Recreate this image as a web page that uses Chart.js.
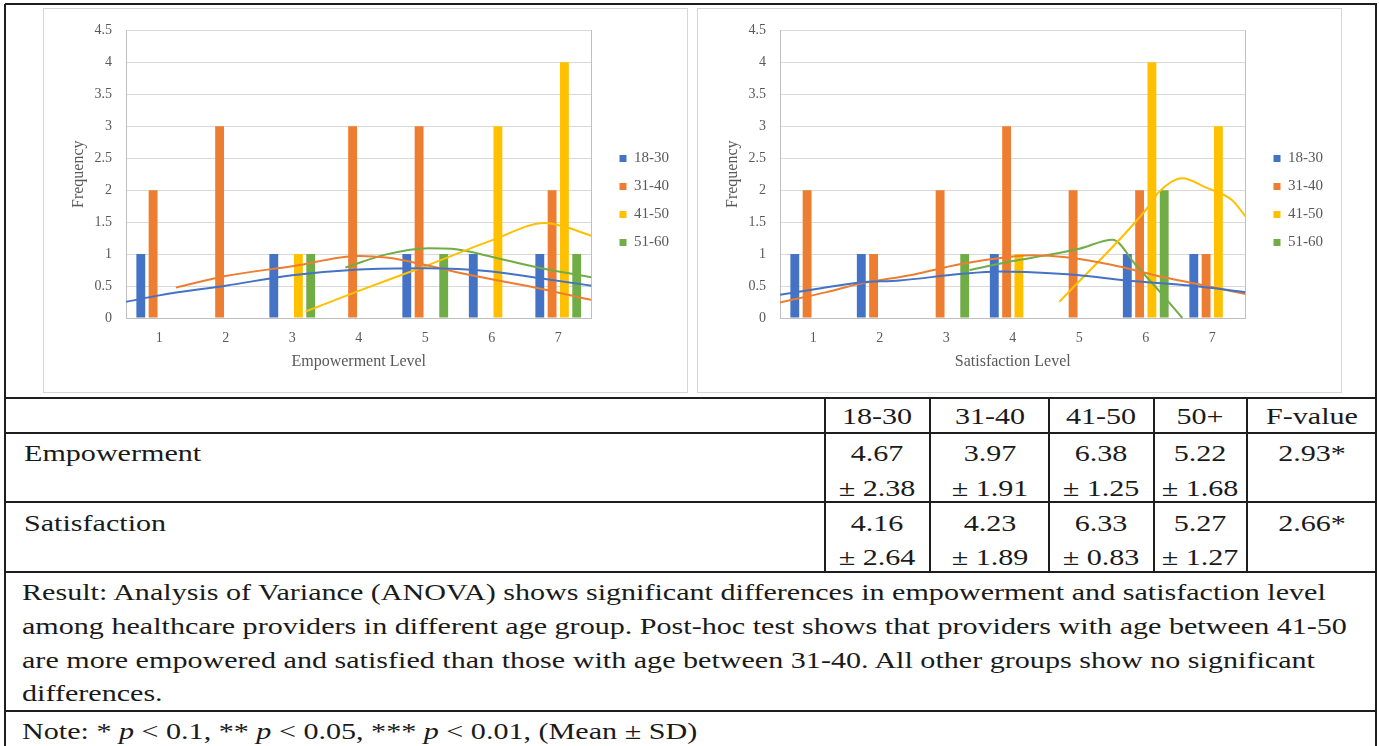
<!DOCTYPE html>
<html><head><meta charset="utf-8">
<script src="https://cdn.jsdelivr.net/npm/chart.js@4.4.0/dist/chart.umd.min.js"></script>
<style>
html,body{margin:0;padding:0;background:#fff;}
body{width:1379px;height:746px;position:relative;overflow:hidden;font-family:'Liberation Serif','Times New Roman',serif;color:#1a1a1a;}
.hl{position:absolute;left:5px;width:1372px;height:2px;background:#1e1e1e;}
.vl{position:absolute;width:2px;background:#1e1e1e;}
.panel{position:absolute;top:8px;width:645px;height:385px;border:1px solid #d6d6d6;box-sizing:border-box;}
.cw{position:absolute;top:8px;width:645px;height:385px;}
.t{position:absolute;white-space:nowrap;font-size:24px;line-height:1;}
</style></head><body>
<div class="vl" style="left:4px;top:4px;height:742px"></div>
<div class="vl" style="left:1375px;top:4px;height:742px"></div>
<div class="hl" style="top:3px"></div>
<div class="hl" style="top:397px"></div>
<div class="hl" style="top:432px"></div>
<div class="hl" style="top:501px"></div>
<div class="hl" style="top:571px"></div>
<div class="hl" style="top:710px"></div>
<div class="panel" style="left:43px"></div>
<div class="panel" style="left:697px"></div>
<div class="cw" style="left:43px"><canvas id="c1"></canvas></div>
<div class="cw" style="left:43px"><canvas id="c1l"></canvas></div>
<div class="cw" style="left:697px"><canvas id="c2"></canvas></div>
<div class="cw" style="left:697px"><canvas id="c2l"></canvas></div>
<div id="tbl"></div>
<script>
// ---- chart data ----
const levels = ['1','2','3','4','5','6','7'];
const groups = ['18-30','31-40','41-50','51-60'];
const yTickLabels = ['0','0.5','1','1.5','2','2.5','3','3.5','4','4.5'];

const emp1830 = [1,0,1,0,1,1,1];
const emp3140 = [2,3,0,3,3,0,2];
const emp4150 = [0,0,1,0,0,3,4];
const emp5160 = [0,0,1,0,1,0,1];

const sat1830 = [1,1,0,1,0,1,1];
const sat3140 = [2,1,2,3,2,2,1];
const sat4150 = [0,0,0,1,0,4,3];
const sat5160 = [0,0,1,0,0,2,0];

// trend curves: [level position, frequency]
const empTrend1830 = [[0.5,0.25],[1,0.35],[2,0.5],[3,0.66],[4,0.75],[5,0.77],[6,0.72],[6.75,0.61],[7.5,0.5]];
const empTrend3140 = [[1.25,0.47],[2,0.65],[3,0.8],[4,0.96],[4.45,0.93],[5,0.82],[5.6,0.68],[6.75,0.45],[7.5,0.28]];
const empTrend4150 = [[3.2,0.1],[4,0.42],[5,0.8],[6,1.2],[6.8,1.47],[7.1,1.41],[7.5,1.27]];
const empTrend5160 = [[3.8,0.78],[4.4,0.98],[5.05,1.08],[5.4,1.07],[6.1,0.92],[6.75,0.77],[7.5,0.63]];

const satTrend1830 = [[0.5,0.36],[1,0.44],[1.7,0.55],[2.3,0.58],[3.2,0.68],[3.8,0.72],[4.2,0.71],[5,0.66],[5.7,0.58],[6.7,0.5],[7.5,0.4]];
const satTrend3140 = [[0.5,0.24],[1.2,0.4],[1.7,0.53],[2.5,0.67],[3.2,0.83],[4,0.95],[4.3,0.97],[4.8,0.94],[5.5,0.82],[6.1,0.67],[6.9,0.5],[7.5,0.37]];
const satTrend4150 = [[4.7,0.25],[6,1.67],[6.2,1.95],[6.55,2.16],[6.9,2.02],[7.3,1.82],[7.5,1.57]];
const satTrend5160 = [[3.35,0.74],[4,0.88],[4.5,0.97],[5,1.07],[5.5,1.21],[5.85,0.82],[6.2,0.42],[6.55,0]];

// ---- table data ----
const colHeads = ['18-30','31-40','41-50','50+','F-value'];
const rowNames = ['Empowerment','Satisfaction'];
const empMeans = ['4.67','3.97','6.38','5.22'];
const empSDs = ['2.38','1.91','1.25','1.68'];
const satMeans = ['4.16','4.23','6.33','5.27'];
const satSDs = ['2.64','1.89','0.83','1.27'];
const fValues = ['2.93*','2.66*'];
const resultLines = [
 'Result: Analysis of Variance (ANOVA) shows significant differences in empowerment and satisfaction level',
 'among healthcare providers in different age group. Post-hoc test shows that providers with age between 41-50',
 'are more empowered and satisfied than those with age between 31-40. All other groups show no significant',
 'differences.'
];
const noteHtml = 'Note: * <i>p</i> &lt; 0.1, ** <i>p</i> &lt; 0.05, *** <i>p</i> &lt; 0.01, (Mean ± SD)';

// ---- styles ----
const colors = ['#4472C4','#ED7D31','#FFC000','#70AD47'];
const FONT = "'Liberation Serif','Times New Roman',serif";
const TXT = '#595959';
const CLEAR = 'rgba(0,0,0,0)';
Chart.defaults.font.family = FONT;

const legendLabels = {boxWidth:7, boxHeight:7, padding:13, color:TXT, font:{family:FONT,size:15}};
const layoutPad = {top:19,bottom:19,left:0,right:9};
const fitX = s=>{s.height=56;}, fitY = s=>{s.width=83;}, fitY2 = s=>{s.width=15;};

function makeBars(id, title, bars) {
  return new Chart(document.getElementById(id), {
    type:'bar',
    data:{labels:levels, datasets:bars.map((d,i)=>({
      label:groups[i], data:d, backgroundColor:colors[i],
      categoryPercentage:0.74, barPercentage:0.72
    }))},
    options:{
      responsive:true, maintainAspectRatio:false, animation:false,
      layout:{padding:layoutPad},
      plugins:{legend:{position:'right', labels:legendLabels}, tooltip:{enabled:false}},
      scales:{
        x:{type:'category', offset:true, grid:{display:false,drawTicks:false}, border:{display:true,color:'#bfbfbf'},
           ticks:{padding:12,color:TXT,font:{size:14}},
           title:{display:true,text:title,color:TXT,font:{size:16},padding:{top:0,bottom:3}},
           afterFit:fitX},
        y:{min:0,max:4.5, ticks:{stepSize:0.5,padding:14,color:TXT,font:{size:14},callback:(v,i)=>yTickLabels[i]},
           grid:{color:'#d9d9d9',drawTicks:false}, border:{display:true,color:'#bfbfbf'},
           title:{display:true,text:'Frequency',color:TXT,font:{size:16},padding:{top:26,bottom:0}},
           afterFit:fitY},
        y2:{position:'right', display:true, grid:{display:false,drawTicks:false}, ticks:{display:false},
            border:{display:true,color:'#bfbfbf'}, afterFit:fitY2}
      }
    }
  });
}
function makeTrends(id, trends) {
  return new Chart(document.getElementById(id), {
    type:'line',
    data:{datasets:trends.map((t,i)=>({
      label:groups[i], data:t.map(p=>({x:p[0],y:p[1]})),
      borderColor:colors[i], borderWidth:2, pointRadius:0, fill:false,
      cubicInterpolationMode:'monotone'
    }))},
    options:{
      responsive:true, maintainAspectRatio:false, animation:false,
      layout:{padding:layoutPad},
      plugins:{legend:{position:'right', labels:Object.assign({}, legendLabels, {
          generateLabels:()=>groups.map(g=>({text:g, fillStyle:CLEAR, strokeStyle:CLEAR, lineWidth:0, fontColor:CLEAR, hidden:false}))
        })}, tooltip:{enabled:false}},
      scales:{
        x:{type:'linear', min:0.5, max:7.5, grid:{display:false,drawTicks:false}, border:{display:false}, ticks:{display:false}, afterFit:fitX},
        y:{min:0, max:4.5, grid:{display:false,drawTicks:false}, border:{display:false}, ticks:{display:false}, afterFit:fitY},
        y2:{position:'right', display:true, grid:{display:false,drawTicks:false}, border:{display:false}, ticks:{display:false}, afterFit:fitY2}
      }
    }
  });
}
makeBars('c1','Empowerment Level',[emp1830,emp3140,emp4150,emp5160]);
makeTrends('c1l',[empTrend1830,empTrend3140,empTrend4150,empTrend5160]);
makeBars('c2','Satisfaction Level',[sat1830,sat3140,sat4150,sat5160]);
makeTrends('c2l',[satTrend1830,satTrend3140,satTrend4150,satTrend5160]);

// ---- table text ----
const mctx = document.createElement('canvas').getContext('2d');
mctx.font = "24px 'Liberation Serif'";
const S = 1306 / mctx.measureText(resultLines[0]).width;
const tbl = document.getElementById('tbl');
function txt(html, x, y, center){
  const d = document.createElement('div');
  d.className='t'; d.innerHTML = html;
  d.style.left = x+'px'; d.style.top = y+'px';
  if(center){ d.style.transform = 'translate(-50%,-50%) scaleX('+S+')'; d.style.transformOrigin='50% 50%'; }
  else { d.style.transform = 'translateY(-50%) scaleX('+S+')'; d.style.transformOrigin='0 50%'; }
  tbl.appendChild(d);
}
const colX = [877,990,1101,1200,1312];
colHeads.forEach((h,i)=>txt(h,colX[i],416,true));
txt(rowNames[0],24,453,false);
txt(rowNames[1],24,523,false);
empMeans.forEach((m,i)=>{txt(m,colX[i],453,true); txt('± '+empSDs[i],colX[i],488,true);});
satMeans.forEach((m,i)=>{txt(m,colX[i],523,true); txt('± '+satSDs[i],colX[i],557,true);});
txt(fValues[0],colX[4],453,true);
txt(fValues[1],colX[4],523,true);
const ry=[592,626,660,693];
resultLines.forEach((l,i)=>txt(l,22,ry[i],false));
txt(noteHtml,22,731,false);
[825,930,1049,1154,1247].forEach(x=>{
  const d=document.createElement('div'); d.className='vl';
  d.style.left=(x-1)+'px'; d.style.top='398px'; d.style.height='174px'; tbl.appendChild(d);
});
</script>
</body></html>
